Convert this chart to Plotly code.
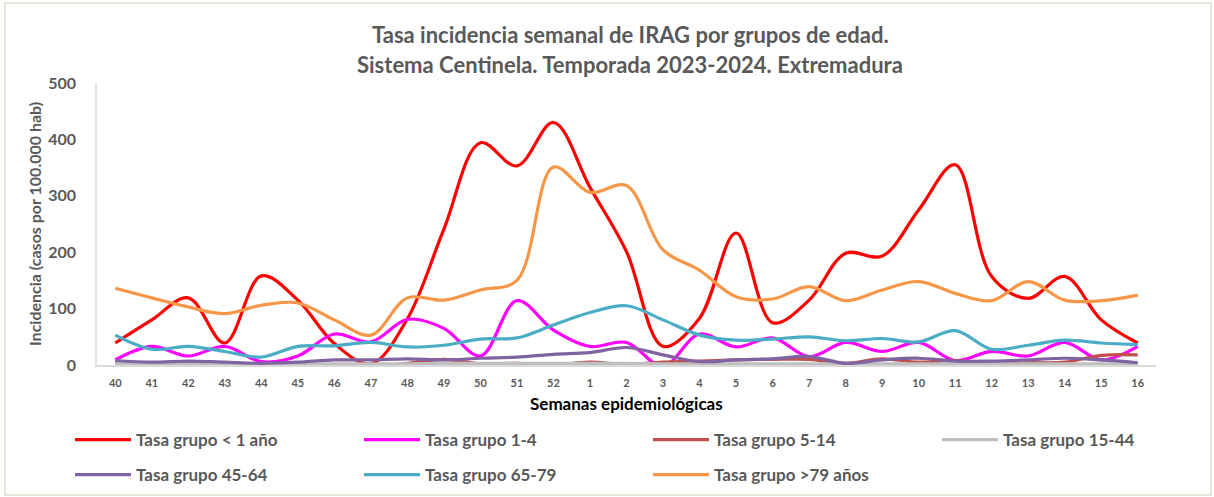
import plotly.graph_objects as go

weeks = ["40","41","42","43","44","45","46","47","48","49","50","51","52",
         "1","2","3","4","5","6","7","8","9","10","11","12","13","14","15","16"]

menor1 = [39, 80, 119, 39, 158, 115, 38, 2, 82, 241, 394, 353, 430,
          315, 201, 33, 83, 234, 75, 115, 198, 193, 275, 355, 157, 118, 157, 80, 39]
g1_4 = [9, 33, 16, 33, 6, 16, 55, 41, 81, 65, 16, 114, 62,
        33, 40, -2, 55, 32, 48, 15, 40, 24, 40, 8, 24, 16, 40, 9, 33]
g5_14 = [5, 3, 3, 2, 1, 0, 0, -2, 3, 10, 2, 3, 0,
         5, 1, 5, 7, 9, 10, 10, 3, 11, 5, 8, 2, 4, 5, 17, 18]
g15_44 = [3, 2, 2, 2, 2, 2, 2, 2, 2, 3, 3, 3, 3,
          3, 3, 2, 2, 2, 2, 2, 2, 2, 2, 2, 2, 2, 2, 2, 2]
g45_64 = [8, 5, 7, 5, 3, 5, 9, 9, 11, 9, 12, 14, 19,
          22, 31, 18, 6, 9, 11, 15, 3, 9, 12, 7, 7, 9, 12, 9, 4]
g65_79 = [53, 28, 33, 24, 14, 33, 34, 40, 32, 35, 46, 48, 71,
          93, 105, 80, 53, 44, 46, 50, 43, 47, 41, 61, 28, 35, 44, 39, 36]
g79 = [136, 119, 103, 91, 106, 110, 80, 53, 119, 115, 133, 150, 351,
       306, 318, 204, 168, 121, 117, 139, 114, 133, 148, 127, 114, 148, 115, 114, 124]

series = [
    ("Tasa grupo < 1 año", menor1, "#FF0000"),
    ("Tasa grupo 1-4", g1_4, "#FF00FF"),
    ("Tasa grupo 5-14", g5_14, "#C0504D"),
    ("Tasa grupo 15-44", g15_44, "#BFBFBF"),
    ("Tasa grupo 45-64", g45_64, "#8064A2"),
    ("Tasa grupo 65-79", g65_79, "#4BACC6"),
    ("Tasa grupo >79 años", g79, "#F79646"),
]

FONT = "Lato"
GRAY = "#595959"

L, R, T, B = 97, 58, 83, 132
W, H = 1214, 497
pw = W - L - R
ph = H - T - B

def px_x(x):
    return (x - L) / pw

def px_y(y):
    return (H - B - y) / ph

# legend slot positions (pixels of the item's left edge / row centre)
leg_cols = [70, 359, 648, 937]
leg_rows = [440, 475]

fig = go.Figure()
legend_layouts = {}
for i, (name, vals, col) in enumerate(series):
    lid = "legend" if i == 0 else f"legend{i+1}"
    fig.add_trace(go.Scatter(
        x=weeks, y=vals, name=name, mode="lines", legend=lid,
        line=dict(color=col, width=3.2, shape="spline", smoothing=1.0),
    ))
    cx = leg_cols[i % 4]
    cy = leg_rows[i // 4]
    legend_layouts[lid] = dict(
        orientation="h", x=px_x(cx), y=px_y(cy), xanchor="left", yanchor="middle",
        font=dict(family=FONT, size=17, color=GRAY, weight="bold"),
        itemwidth=56, bgcolor="rgba(0,0,0,0)", borderwidth=0,
    )

fig.update_layout(
    width=W, height=H,
    margin=dict(l=L, r=R, t=T, b=B, autoexpand=False),
    paper_bgcolor="white", plot_bgcolor="white",
    font=dict(family=FONT, color=GRAY),
    showlegend=True,
    xaxis=dict(
        type="category", range=[-0.5, len(weeks) - 0.5],
        showgrid=False, zeroline=False,
        showline=True, linecolor="#D9D9D9", linewidth=1.5,
        ticks="", tickfont=dict(family=FONT, size=11, color=GRAY, weight="bold"),
        ticklabelstandoff=7,
    ),
    yaxis=dict(
        range=[0, 500], dtick=100, showgrid=False, zeroline=False,
        showline=True, linecolor="#E3E3E3", linewidth=1.5,
        ticks="", tickfont=dict(family=FONT, size=16, color=GRAY, weight="bold"),
        ticklabelstandoff=16,
    ),
    **legend_layouts,
)

annotations = [
    dict(text="<b>Tasa incidencia semanal de IRAG por grupos de edad.</b>",
         x=px_x(630), y=px_y(35), xref="paper", yref="paper",
         xanchor="center", yanchor="middle",
         showarrow=False, font=dict(family=FONT, size=22, color=GRAY)),
    dict(text="<b>Sistema Centinela. Temporada 2023-2024. Extremadura</b>",
         x=px_x(630), y=px_y(64), xref="paper", yref="paper",
         xanchor="center", yanchor="middle",
         showarrow=False, font=dict(family=FONT, size=22, color=GRAY)),
    dict(text="<b>Incidencia (casos por 100.000 hab)</b>", textangle=-90,
         x=px_x(34), y=px_y(224), xref="paper", yref="paper",
         xanchor="center", yanchor="middle",
         showarrow=False, font=dict(family=FONT, size=16, color=GRAY)),
    dict(text="<b>Semanas epidemiológicas</b>",
         x=px_x(626), y=px_y(403), xref="paper", yref="paper",
         xanchor="center", yanchor="middle",
         showarrow=False, font=dict(family=FONT, size=17, color="#000000")),
]
fig.update_layout(annotations=annotations)

fig.add_shape(type="rect", xref="paper", yref="paper",
              x0=px_x(5), x1=px_x(1211), y0=px_y(495), y1=px_y(3),
              line=dict(color="#E6E2D8", width=2), fillcolor="rgba(0,0,0,0)",
              layer="below")

fig.write_html("out.html", config={"displayModeBar": False},
               post_script="document.body.style.margin='0';")
